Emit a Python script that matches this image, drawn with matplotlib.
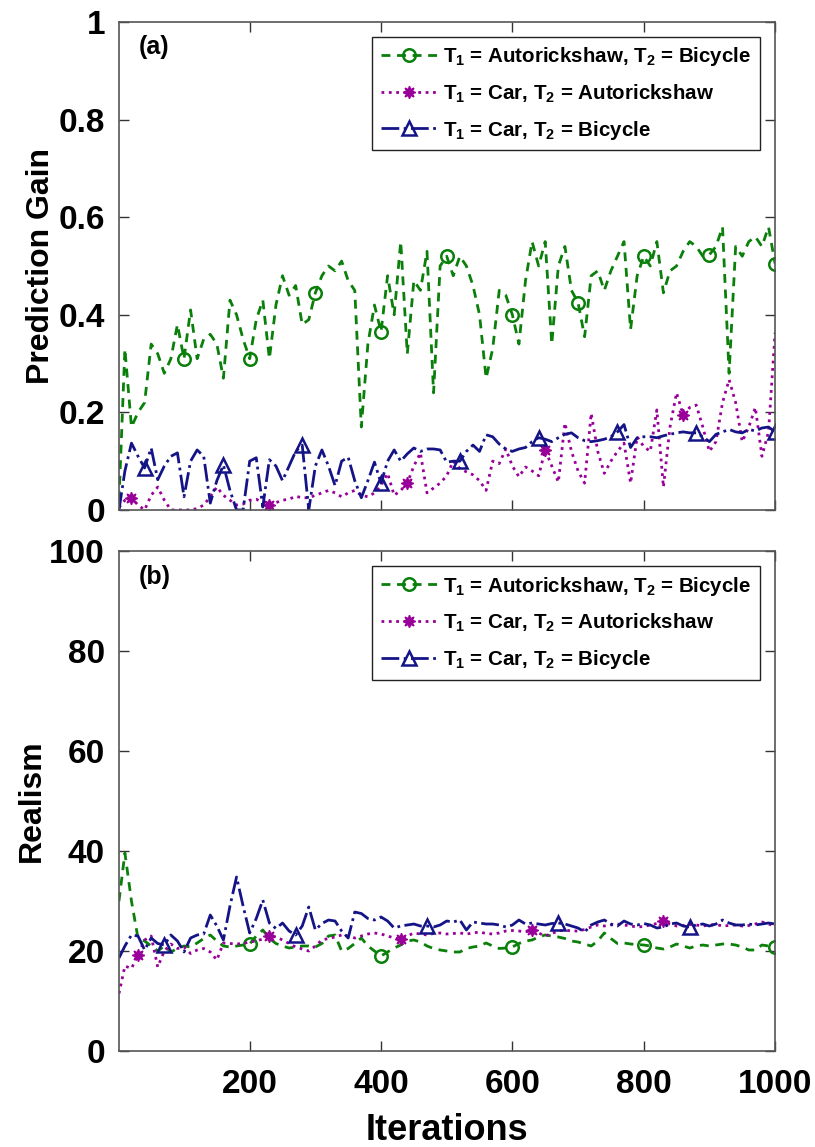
import numpy as np
import matplotlib
matplotlib.use('Agg')
import matplotlib.pyplot as plt

plt.rcParams['font.family'] = ['Liberation Sans', 'DejaVu Sans']
plt.rcParams['font.weight'] = 'bold'
plt.rcParams['mathtext.fontset'] = 'custom'
plt.rcParams['mathtext.bf'] = 'Liberation Sans:bold'
plt.rcParams['mathtext.rm'] = 'Liberation Sans:bold'
plt.rcParams['mathtext.default'] = 'bf'

# sampling grid (every 10 iterations)
iters = np.r_[1, np.arange(10, 1001, 10)]

labels = [r'T$_1$ = Autorickshaw, T$_2$ = Bicycle',
          r'T$_1$ = Car, T$_2$ = Autorickshaw',
          r'T$_1$ = Car, T$_2$ = Bicycle']

# (a) prediction gain
gain_auto_bic = [0.02, 0.33, 0.17, 0.20, 0.22, 0.34, 0.32, 0.28, 0.31, 0.38,
                 0.31, 0.41, 0.31, 0.35, 0.36, 0.34, 0.27, 0.43, 0.40, 0.35,
                 0.31, 0.39, 0.43, 0.31, 0.42, 0.48, 0.44, 0.46, 0.38, 0.39,
                 0.445, 0.48, 0.50, 0.49, 0.51, 0.47, 0.45, 0.17, 0.34, 0.42,
                 0.365, 0.48, 0.40, 0.55, 0.32, 0.47, 0.45, 0.53, 0.24, 0.50,
                 0.52, 0.48, 0.52, 0.50, 0.46, 0.40, 0.27, 0.33, 0.45, 0.44,
                 0.40, 0.34, 0.47, 0.55, 0.50, 0.55, 0.34, 0.50, 0.54, 0.45,
                 0.425, 0.355, 0.48, 0.49, 0.45, 0.49, 0.52, 0.55, 0.37, 0.48,
                 0.52, 0.50, 0.55, 0.445, 0.49, 0.50, 0.53, 0.55, 0.54, 0.52,
                 0.523, 0.54, 0.58, 0.28, 0.54, 0.52, 0.55, 0.56, 0.54, 0.58,
                 0.505]
gain_car_auto = [0.005, 0.02, 0.025, 0.01, 0.0, 0.03, 0.047, 0.02, 0.0, 0.0,
                 0.0, 0.0, 0.003, 0.01, 0.027, 0.047, 0.03, 0.02, 0.01, 0.012,
                 0.02, 0.022, 0.015, 0.01, 0.015, 0.02, 0.022, 0.028, 0.025, 0.025,
                 0.03, 0.035, 0.04, 0.035, 0.027, 0.035, 0.04, 0.03, 0.027, 0.035,
                 0.05, 0.075, 0.03, 0.04, 0.055, 0.09, 0.117, 0.035, 0.045, 0.055,
                 0.07, 0.10, 0.085, 0.078, 0.072, 0.06, 0.04, 0.10, 0.095, 0.125,
                 0.09, 0.068, 0.088, 0.08, 0.07, 0.123, 0.09, 0.057, 0.178, 0.12,
                 0.08, 0.055, 0.198, 0.12, 0.075, 0.10, 0.12, 0.137, 0.055, 0.15,
                 0.13, 0.12, 0.205, 0.047, 0.17, 0.24, 0.195, 0.21, 0.215, 0.17,
                 0.12, 0.14, 0.22, 0.267, 0.22, 0.14, 0.17, 0.21, 0.11, 0.16,
                 0.363]
gain_car_bic = [0.0, 0.08, 0.137, 0.11, 0.086, 0.127, 0.062, 0.09, 0.11, 0.117,
                0.027, 0.10, 0.123, 0.11, 0.014, 0.06, 0.092, 0.04, 0.0, 0.0,
                0.10, 0.107, 0.006, 0.103, 0.09, 0.06, 0.09, 0.12, 0.133, 0.0,
                0.09, 0.123, 0.09, 0.05, 0.10, 0.108, 0.06, 0.025, 0.06, 0.098,
                0.055, 0.10, 0.123, 0.10, 0.115, 0.127, 0.12, 0.125, 0.125, 0.123,
                0.098, 0.10, 0.10, 0.12, 0.133, 0.12, 0.154, 0.15, 0.135, 0.125,
                0.12, 0.125, 0.128, 0.14, 0.148, 0.145, 0.14, 0.148, 0.155, 0.158,
                0.148, 0.142, 0.14, 0.142, 0.145, 0.15, 0.16, 0.175, 0.128, 0.148,
                0.15, 0.15, 0.148, 0.152, 0.155, 0.158, 0.16, 0.158, 0.158, 0.15,
                0.14, 0.155, 0.16, 0.165, 0.16, 0.158, 0.165, 0.162, 0.168, 0.17,
                0.16]

# (b) realism
real_auto_bic = [30, 39.6, 30, 22.5, 22, 21, 20, 21, 19.8, 20.5,
                 21, 20.8, 21.6, 22.5, 23.2, 22, 21, 20.8, 21, 21.2,
                 21.4, 23, 24.2, 22.5, 21.5, 21, 20.6, 20.8, 21, 21,
                 20.8, 21.5, 23, 23.2, 20, 20.5, 21.5, 22.6, 21, 20,
                 19, 19.8, 20.6, 21.2, 22, 22.2, 21.8, 21, 20.5, 20.2,
                 20, 19.8, 19.8, 20.5, 20.8, 21, 21.6, 21, 20.5, 20.6,
                 20.8, 21.5, 22, 22.2, 22.8, 23.2, 23, 22.8, 22.5, 22,
                 21.8, 21.4, 21, 22, 23.6, 22.5, 21.5, 21.6, 21.4, 21.3,
                 21.2, 21, 20.6, 20.4, 20.8, 21.4, 21, 20.6, 21, 21.2,
                 21, 21.2, 21.4, 21.4, 21.2, 20.8, 20.2, 20.2, 21.2, 21,
                 20.8]
real_car_auto = [11.5, 17, 16.5, 19.2, 22.2, 23, 16.8, 20, 21.4, 20.5,
                 20.8, 19.5, 20.2, 20.5, 19.8, 18.2, 21.6, 21.5, 21.4, 21.5,
                 21.8, 22, 22.4, 23, 22.8, 22.2, 21.5, 20.8, 20.4, 20,
                 21, 22.2, 22.5, 22.8, 23.2, 23, 22.6, 23, 23.4, 23.6,
                 23.4, 23, 22.6, 22.4, 23, 23.6, 23.4, 23.2, 23.5, 23.6,
                 23.4, 23.5, 23.6, 23.4, 23.6, 23.8, 23.5, 23.4, 23.6, 24,
                 24.1, 24, 23.8, 24.2, 23.6, 23, 23.5, 24, 24.2, 24,
                 24, 24.3, 24.8, 25.2, 25, 25.2, 25.4, 25.2, 25, 24.8,
                 24.9, 25.2, 25.5, 26, 25.4, 25, 25.1, 25.3, 25.2, 25,
                 25.2, 25.3, 25, 25.1, 25.2, 25, 25.1, 25.4, 25.8, 25.4,
                 25]
real_car_bic = [18.6, 21, 23.2, 23, 20.2, 22.6, 21.5, 21.2, 23.2, 22,
                19.8, 22.6, 23.2, 23.4, 27.2, 25, 22.2, 29, 34.8, 29,
                23.6, 26.5, 30.2, 25.6, 24.5, 25.6, 24, 23.2, 25, 28.8,
                24.2, 25.5, 26.2, 26, 24, 22.6, 27.8, 27.5, 26.5, 26.2,
                26.8, 26, 24.6, 25, 25.2, 25.4, 25, 25, 24.8, 25.2,
                26, 25.8, 26.2, 24.2, 25.8, 25.6, 25.4, 25.4, 25.2, 24.8,
                25.2, 26.2, 25.4, 25.6, 25.4, 25.2, 25.5, 25.6, 25.4, 25,
                24.6, 23.8, 25.2, 25.8, 26.2, 25.4, 25, 26, 25.4, 25.2,
                25.5, 25.2, 24.6, 24.8, 25.4, 25.6, 25, 24.8, 25.2, 25.4,
                25, 25.4, 26.2, 25.6, 25.2, 25.2, 25.4, 25.2, 25.4, 25.6,
                25.4]

green = '#0a7f0a'
purple = '#990099'
navy = '#141487'

fig = plt.figure(figsize=(8.15, 11.47), dpi=100)
ax1 = fig.add_axes([0.146, 0.5554, 0.805, 0.4254])
ax2 = fig.add_axes([0.146, 0.0837, 0.805, 0.4359])


def draw(ax, ys, marks, ylim, yticks, yticklabels, ylabel, tag):
    styles = [dict(color=green, ls='--', dashes=(3.2, 2.4), marker='o', ms=9,
                   mfc='none', mew=1.8),
              dict(color=purple, ls=':', marker=(8, 1, 0), ms=9, mfc=purple,
                   mew=1.0),
              dict(color=navy, ls='-.', marker='^', ms=10, mfc='none', mew=1.8)]
    for y, m, st, lab in zip(ys, marks, styles, labels):
        ax.plot(iters, y, lw=2.0, markevery=m, label=lab, **st)
    ax.set_xlim(1, 1000)
    ax.set_ylim(*ylim)
    ax.set_xticks([200, 400, 600, 800, 1000])
    ax.set_yticks(yticks)
    ax.set_yticklabels(yticklabels)
    ax.tick_params(direction='in', length=7, width=1, top=True, right=True,
                   labelsize=24, color='#333333')
    ax.tick_params(axis='x', pad=13)
    ax.tick_params(axis='y', pad=10)
    for s in ax.spines.values():
        s.set_color('#555555')
        s.set_linewidth(1.2)
    ax.set_ylabel(ylabel, fontsize=23, fontweight='bold', labelpad=2)
    ax.text(0.03, 0.948, tag, transform=ax.transAxes, fontsize=18,
            fontweight='bold', va='center', ha='left')
    leg = ax.legend(loc='upper right', bbox_to_anchor=(0.977, 0.97),
                    fontsize=14.8, handlelength=2.8, handletextpad=0.25,
                    borderpad=0.42, labelspacing=0.68, borderaxespad=0,
                    fancybox=False, framealpha=1, edgecolor='#222222')
    leg.get_frame().set_linewidth(1.0)


draw(ax1, [gain_auto_bic, gain_car_auto, gain_car_bic],
     [slice(10, None, 10), slice(2, None, 21), slice(4, None, 12)],
     (0, 1), [0, 0.2, 0.4, 0.6, 0.8, 1], ['0', '0.2', '0.4', '0.6', '0.8', '1'],
     'Prediction Gain', '(a)')
ax1.set_xticklabels([])

draw(ax2, [real_auto_bic, real_car_auto, real_car_bic],
     [slice(20, None, 20), slice(3, None, 20), slice(7, None, 20)],
     (0, 100), [0, 20, 40, 60, 80, 100], ['0', '20', '40', '60', '80', '100'],
     'Realism', '(b)')
ax2.set_xlabel('Iterations', fontsize=26, fontweight='bold', labelpad=9)

fig.savefig('out.png', dpi=100)
